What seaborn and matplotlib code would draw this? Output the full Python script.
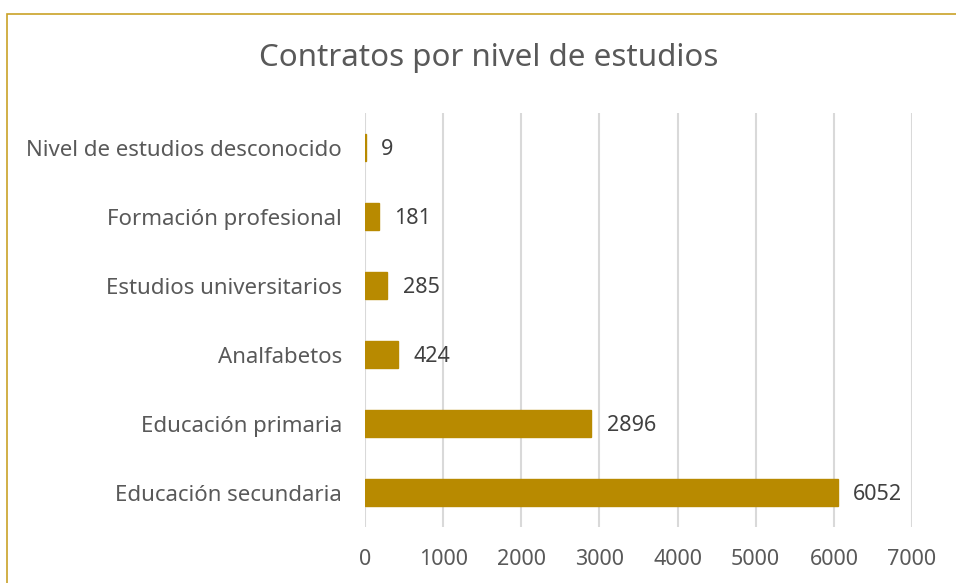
import matplotlib
matplotlib.use("Agg")
import matplotlib.pyplot as plt
import seaborn as sns
import pandas as pd
from matplotlib.patches import Rectangle

# Datos del gráfico
niveles = [
    "Nivel de estudios desconocido",
    "Formación profesional",
    "Estudios universitarios",
    "Analfabetos",
    "Educación primaria",
    "Educación secundaria",
]
contratos = [9, 181, 285, 424, 2896, 6052]
x_ticks = [0, 1000, 2000, 3000, 4000, 5000, 6000, 7000]

BAR_COLOR = "#B88A00"
TEXT_COLOR = "#595959"
GRID_COLOR = "#D9D9D9"
FS = 15.5

sns.set_theme(style="white")
plt.rcParams["font.family"] = ["Noto Sans", "DejaVu Sans"]

df = pd.DataFrame({"nivel": niveles, "contratos": contratos})

fig = plt.figure(figsize=(9.56, 5.83), dpi=100)
ax = fig.add_axes([0.3818, 0.096, 0.954 - 0.3818, 0.806 - 0.096])

sns.barplot(data=df, x="contratos", y="nivel", color=BAR_COLOR,
            saturation=1, width=0.38, ax=ax, zorder=3,
            edgecolor=BAR_COLOR, linewidth=1)

for i, v in enumerate(contratos):
    ax.annotate(str(v), xy=(v, i), xytext=(11, -1.5), textcoords="offset points",
                ha="left", va="center", fontsize=FS, color="#404040")

ax.set_xlim(0, 7000)
ax.set_ylim(5.5, -0.5)
ax.set_xticks(x_ticks)
ax.set_xticklabels([str(t) for t in x_ticks], fontsize=FS, color=TEXT_COLOR)
ax.set_yticklabels(niveles, fontsize=16, color=TEXT_COLOR)
ax.tick_params(axis="both", length=0)
ax.tick_params(axis="x", pad=15.5)
ax.tick_params(axis="y", pad=16.5)
ax.set_xlabel("")
ax.set_ylabel("")
ax.xaxis.grid(True, color=GRID_COLOR, linewidth=1.5, zorder=0)
ax.yaxis.grid(False)
for s in ax.spines.values():
    s.set_visible(False)

fig.text(0.511, 1 - 58 / 583, "Contratos por nivel de estudios", ha="center",
         va="center", fontsize=22.5, color=TEXT_COLOR, fontweight="light")

# borde del área del gráfico
fig.patches.append(Rectangle((7 / 956, -0.1), 1.2, 1 - 14 / 583 + 0.1,
                             transform=fig.transFigure, fill=False,
                             edgecolor="#C9A227", linewidth=1.2))

fig.savefig("out.png", dpi=100)
